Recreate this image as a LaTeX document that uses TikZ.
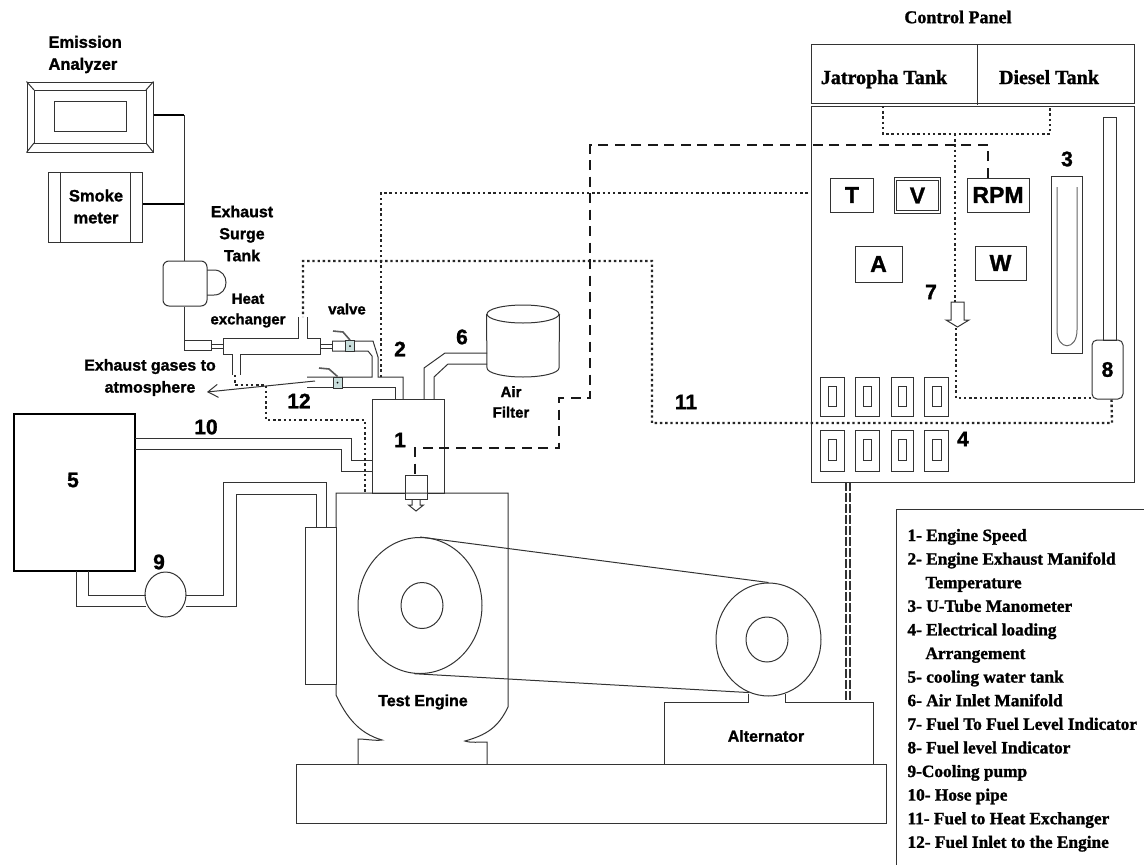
\documentclass[tikz,border=0pt]{standalone}
\usepackage{fontspec}
\setmainfont{Liberation Serif}[BoldFeatures={FakeBold=1.3}]
\setsansfont{Liberation Sans}[BoldFeatures={FakeBold=1.3}]
\usepackage{xcolor}
\usetikzlibrary{arrows.meta, shapes.geometric}
\definecolor{ink}{HTML}{333333}
\definecolor{valvefill}{HTML}{C9DEDC}

\begin{document}
\begin{tikzpicture}[
  x=1pt, y=-1pt,
  line width=1pt, draw=ink,
  box/.style={draw=ink, minimum width=#1, inner sep=0pt},
  meter/.style={draw=ink, inner sep=0pt, font=\fontsize{23}{23}\selectfont\sffamily\bfseries},
  lbl/.style={font=\fontsize{16}{22}\selectfont\sffamily\bfseries, align=center, inner sep=0pt},
  smalllbl/.style={lbl, font=\fontsize{15}{20.5}\selectfont\sffamily\bfseries},
  num/.style={font=\fontsize{21}{21}\selectfont\sffamily\bfseries, inner sep=0pt},
  tanklbl/.style={font=\fontsize{20}{20}\selectfont\bfseries, inner sep=0pt, anchor=base},
  key/.style={font=\fontsize{17.3}{23.6}\selectfont\bfseries, align=left, anchor=north west, inner sep=0pt},
  wheel/.style={draw=ink, ellipse, inner sep=0pt},
  fuel/.style={line width=2.4pt, dash pattern=on 2.4pt off 2.8pt, draw=black!85},
  signal/.style={line width=2.2pt, dash pattern=on 10pt off 6.5pt, draw=black!90},
  thickwire/.style={line width=1.8pt, draw=black},
  valve/.style={draw=ink, fill=valvefill, minimum width=9pt, minimum height=11pt, inner sep=0pt}
]
  \useasboundingbox (0,0) rectangle (1144,865);

  % analyzers on the exhaust line
  \node[lbl, align=left, anchor=west, font=\fontsize{16.5}{22}\selectfont\sffamily\bfseries] (emlabel) at (48,54.5) {Emission\\Analyzer};
  \node[box=126pt, minimum height=70pt] (analyzer) at (90,117) {};
  \node[box=72pt, minimum height=30pt] (display) at (90,116) {};
  \draw (34,90) rectangle (146,143);
  \draw (analyzer.north west) -- (34,90) (analyzer.north east) -- (146,90)
        (analyzer.south west) -- (34,143) (analyzer.south east) -- (146,143);
  \node[box=94pt, minimum height=70pt] (smoke) at (95,207) {};
  \draw (60,172) -- (60,242) (130,172) -- (130,242);
  \node[lbl, font=\fontsize{16.5}{22}\selectfont\sffamily\bfseries] at (96,206.5) {Smoke\\meter};
  \node[draw=ink, rounded corners=6pt, minimum width=44pt, minimum height=45pt, inner sep=0pt] (surge) at (185,283.5) {};
  \draw (207,270) -- (214,270) .. controls (230,270) and (230,295) .. (214,295) -- (207,295);
  \node[lbl] (surgelabel) at (242,233.5) {Exhaust\\Surge\\Tank};

  \coordinate (trunk) at (184,115);
  \draw[thickwire] (analyzer.east |- trunk) -- (trunk);
  \draw[thickwire] ([yshift=3pt]smoke.east) -- ([yshift=3pt]smoke.east -| trunk);
  \draw (trunk) -- (surge.north -| trunk);

  % heat exchanger and valves
  \node[smalllbl] (hxlabel) at (248,310.5) {Heat\\exchanger};
  \node[smalllbl] (valvelabel) at (347,309) {valve};
  \draw (surge.south -| trunk) -- (184,350) -- (211,350) -- (211,340) -- (184,340);
  \draw (211,344) -- (223,344) (211,348) -- (223,348);
  \draw (232,375) -- (232,354) -- (223,354) -- (223,338) -- (298,338) -- (298,317);
  \draw (307,317) -- (307,338) -- (320,338) -- (320,354) -- (240,354) -- (240,375);
  \draw (320,344) -- (332,344) (320,348) -- (332,348);
  \draw (332,341) -- (332,351);
  \draw (332,341) -- (373,341) -- (378,357) -- (378,377) -- (403,377) -- (403,399);
  \draw (332,351) -- (368,351) -- (372,356) -- (372,377) -- (307,377);
  \draw (307,387) -- (395,387) -- (395,399);
  \node[valve] (valveA) at (350,346) {};
  \node[valve] (valveB) at (337.5,382.5) {};
  \fill (valveA) circle (1pt) (valveB) circle (1pt);
  \draw[line width=1.6pt, draw=black!65] (333,331) -- (343,332) -- (valveA.north);
  \draw[line width=1.6pt, draw=black!65] (319,368) -- (329,369) -- (valveB.north);
  \coordinate (exhaustend) at (315,381);
  \node[lbl] (exhaustlabel) at (150,377.5) {Exhaust gases to\\atmosphere};
  \draw[-{Straight Barb[length=10pt, width=13pt]}] (exhaustend) -- (207,392);

  % engine
  \node[box=72pt, minimum height=94pt] (head) at (408,446) {};
  \draw (424,399) -- (424,368) -- (445,353) -- (487,353);
  \draw (434,399) -- (434,377) -- (448,364) -- (487,364);
  \node[draw=ink, fill=white, inner sep=0pt, minimum width=22pt, minimum height=24pt] (injector) at (416,487) {};
  \draw (412,499) -- (412,505) -- (408.5,505) -- (416,511) -- (423.5,505) -- (420,505) -- (420,499);
  \draw (336,527) -- (336,493) -- (508,493) -- (508,707) .. controls (498,728) and (486,735) .. (465,741)
        .. controls (470,743) and (480,742) .. (487,742) -- (487,764);
  \draw (336,684) -- (336,695) .. controls (346,716) and (358,733) .. (382,740)
        .. controls (375,741) and (366,739) .. (358,739) -- (358,764);
  \node[box=31pt, minimum height=157pt] (radiator) at (321,605.5) {};
  \node[lbl] (enginelabel) at (423,702) {Test Engine};
  \node[box=590pt, minimum height=59pt] (base) at (591,793.5) {};
  \node[wheel, minimum width=124pt, minimum height=136pt] (flywheel) at (420,605.5) {};
  \node[wheel, minimum width=42pt, minimum height=46pt] (hub) at (422,605.5) {};
  \node[wheel, minimum width=105pt, minimum height=113pt] (altwheel) at (768.5,639.5) {};
  \node[wheel, minimum width=42pt, minimum height=45pt] (althub) at (767,639.5) {};
  \draw (flywheel.north) -- (altwheel.north);
  \draw (flywheel.265) -- (altwheel.250);
  \draw (664,764) -- (664,702) -- (748,702) -- (748,694);
  \draw (785,694) -- (785,702) -- (873,702) -- (873,764);
  \node[lbl] (altlabel) at (766,736) {Alternator};

  % air filter
  \node[wheel, minimum width=72pt, minimum height=18pt] (filtertop) at (523,314) {};
  \draw (filtertop.west) -- (487,368) arc (180:360:36 and -9) -- (filtertop.east);
  \node[smalllbl] (filterlabel) at (511,402) {Air\\Filter};

  % cooling water
  \node[draw=black, line width=2pt, minimum width=121pt, minimum height=157pt, inner sep=0pt] (watertank) at (74.5,492.5) {};
  \node[wheel, minimum width=41pt, minimum height=45pt] (pump) at (165.5,594.5) {};
  \draw (135,438) -- (351,438) -- (351,460) -- (372,460);
  \draw (135,449) -- (341,449) -- (341,471) -- (372,471);
  \draw (76,571) -- (76,606) -- (146,606);
  \draw (88,571) -- (88,595) -- (146,595);
  \draw (186,595) -- (223,595) -- (223,482) -- (326,482) -- (326,527);
  \draw (186,606) -- (236,606) -- (236,494) -- (316,494) -- (316,527);

  % control panel
  \node[font=\fontsize{18}{18}\selectfont\bfseries, inner sep=0pt] (paneltitle) at (958,17) {Control Panel};
  \node[box=323pt, minimum height=59pt] (tanks) at (972.5,73.5) {};
  \draw (977,44) -- (977,105);
  \node[tanklbl] (jatropha) at (884,84) {Jatropha Tank};
  \node[tanklbl] (diesel) at (1049,84) {Diesel Tank};
  \node[box=323pt, minimum height=376pt] (panel) at (972.5,294) {};
  \node[meter, minimum width=43pt, minimum height=34pt] (t) at (852,195) {T};
  \node[meter, double, double distance=1.6pt, minimum width=44pt, minimum height=33pt] (v) at (917.5,195.5) {V};
  \node[meter, minimum width=62pt, minimum height=34pt] (rpm) at (998,195) {RPM};
  \node[meter, minimum width=47pt, minimum height=36pt] (a) at (878.5,264) {A};
  \node[meter, minimum width=51pt, minimum height=34pt] (w) at (1000.5,263) {W};
  \node[box=31pt, minimum height=177pt] (manometer) at (1066.5,264.5) {};
  \draw[draw=black!60] (1057,187) -- (1057,330) .. controls (1057,351) and (1077,351) .. (1077,330) -- (1077,187);
  \node[box=13pt, minimum height=223pt] (tube) at (1109.5,228.5) {};
  \node[draw=ink, rounded corners=5pt, minimum width=31pt, minimum height=59pt, inner sep=0pt,
        font=\fontsize{21}{21}\selectfont\sffamily\bfseries] (level) at (1107.5,369.5) {8};
  \foreach \xa/\xb/\xc/\xd in {820/844/828/836, 855/879/863/871, 891/913/898/906, 924/948/932/941} {
    \draw (\xa,377) rectangle (\xb,416);
    \draw (\xc,386) rectangle (\xd,406);
    \draw (\xa,430) rectangle (\xb,471);
    \draw (\xc,439) rectangle (\xd,460);
  }
  \draw (951,302) -- (964,302) -- (964,320) -- (969,320) -- (957.5,327) -- (946,320) -- (951,320) -- cycle;
  \coordinate (fuelsplit) at (955,134);

  % fuel and signal lines
  \draw[fuel] (883,106) -- (883,134) -- (1050,134) -- (1050,106);
  \draw[fuel] (fuelsplit) -- (955,302);
  \draw[fuel] (956,328) -- (956,398) -- (level.west |- 0,398);
  \draw[fuel] (level.south) ++(4,0) -- (1112,423) -- (652,423) -- (652,261) -- (303,261) -- (303,317);
  \draw[fuel] (235,375) -- (235,385) -- (266,385) -- (266,420) -- (365,420) -- (365,493);
  \draw[fuel] (381,377) -- (381,193) -- (808,193);
  \draw[signal] (rpm.north -| 988,0) -- (988,145) -- (590,145) -- (590,398) -- (559,398) -- (559,448) -- (415,448) -- (injector.north -| 415,0);
  \draw[line width=2pt, dash pattern=on 9pt off 2pt] (845.5,482) -- (845.5,702);
  \draw[line width=2pt, dash pattern=on 9pt off 2pt] (850,482) -- (850,702);

  % numbers
  \node[num] (n1) at (400,440) {1};
  \node[num] (n2) at (400,349) {2};
  \node[num] (n3) at (1067,159) {3};
  \node[num] (n4) at (963,439) {4};
  \node[num] (n5) at (73,480) {5};
  \node[num] (n6) at (462,337) {6};
  \node[num] (n7) at (931,292) {7};
  \node[num] (n9) at (159,562) {9};
  \node[num] (n10) at (206,427) {10};
  \node[num] (n11) at (686,402) {11};
  \node[num] (n12) at (299,401) {12};

  % key
  \draw (1144,509) -- (896,509) -- (896,865);
  \node[key] (keytext) at (907,528.5) {1- Engine Speed\\2- Engine Exhaust Manifold\\\hspace*{18pt}Temperature\\3- U-Tube Manometer\\4- Electrical loading\\\hspace*{18pt}Arrangement\\5- cooling water tank\\6- Air Inlet Manifold\\7- Fuel To Fuel Level Indicator\\8- Fuel level Indicator\\9-Cooling pump\\10- Hose pipe\\11- Fuel to Heat Exchanger\\12- Fuel Inlet to the Engine};
\end{tikzpicture}
\end{document}
